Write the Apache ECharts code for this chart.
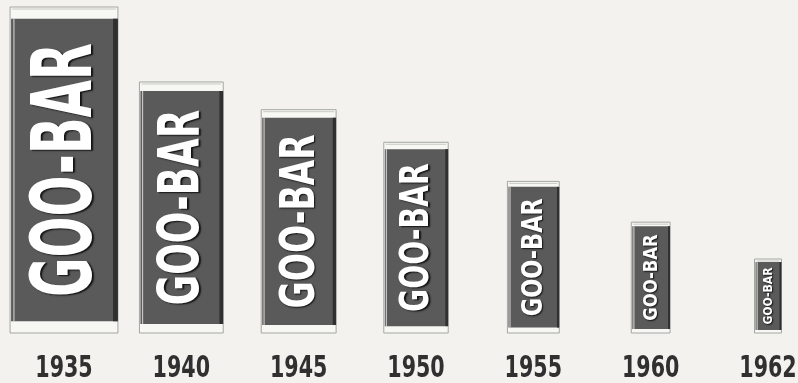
<!DOCTYPE html>
<html>
<head>
<meta charset="utf-8">
<script src="https://cdn.jsdelivr.net/npm/echarts@6/dist/echarts.min.js"></script>
<style>
  html, body { margin: 0; padding: 0; background: #f3f2ee; }
  #chart { width: 798px; height: 383px; }
</style>
</head>
<body>
<div id="chart"></div>
<script>
// Year of each wrapper shown
const years = ['1935', '1940', '1945', '1950', '1955', '1960', '1962'];
// Relative size of the candy bar (1935 = 100)
const barSize = [100, 77, 68.5, 58.5, 46.5, 34, 22.7];
// Brand printed on the wrapper
const brandName = 'GOO-BAR';

const condensedFont = '"Liberation Sans Narrow", "DejaVu Sans Condensed", sans-serif';

const measureCtx = document.createElement('canvas').getContext('2d');
function textWidth(str, size) {
  measureCtx.font = 'bold ' + size + 'px ' + condensedFont;
  return measureCtx.measureText(str).width;
}

// One wrapped candy bar, scaled in both directions with its value,
// plus the year printed underneath it
function renderBar(params, api) {
  const idx = api.value(0);
  const val = api.value(1);
  const top = api.coord([idx, val]);
  const base = api.coord([idx, 0]);
  const h = base[1] - top[1];
  const w = 0.321 * h + 3.2;
  const cx = top[0];
  const x0 = cx - w / 2;
  const tab = Math.max(3, h * 0.036);
  const bodyTop = top[1] + tab;
  const bodyH = h - 2 * tab;

  const capH = w * (0.24 + 0.003 * w);
  const fs = capH / 0.72;
  const natural = textWidth(brandName, fs);
  const sx = (bodyH * 0.84) / natural;

  return {
    type: 'group',
    children: [
      { type: 'rect', shape: { x: x0, y: top[1], width: w, height: h },
        style: { fill: '#f7f7f4', stroke: '#a5a5a2', lineWidth: 1 } },
      { type: 'rect', shape: { x: x0 + 1, y: bodyTop, width: w - 1.5, height: bodyH },
        style: { fill: '#5a5a5a' } },
      { type: 'rect', shape: { x: x0 + w - Math.max(2, w * 0.045), y: bodyTop, width: Math.max(2, w * 0.045), height: bodyH },
        style: { fill: '#303030' } },
      { type: 'rect', shape: { x: x0 + Math.max(2, w * 0.03), y: bodyTop, width: 1.2, height: bodyH },
        style: { fill: 'rgba(235,235,235,0.75)' } },
      { type: 'line', shape: { x1: x0 + 2, y1: top[1] + 2, x2: x0 + w - 2, y2: top[1] + 2 },
        style: { stroke: '#c9c9c6', lineWidth: 1 } },
      { type: 'text', x: cx + 0.077 * fs - 0.015 * w, y: bodyTop + bodyH / 2, rotation: Math.PI / 2,
        scaleX: sx, scaleY: 1,
        style: { text: brandName, fill: '#ffffff', font: 'bold ' + fs + 'px ' + condensedFont,
          align: 'center', verticalAlign: 'middle',
          textShadowColor: 'rgba(15,15,15,0.95)', textShadowBlur: 1.5,
          textShadowOffsetX: Math.max(1, w * 0.022), textShadowOffsetY: 1 } },
      { type: 'text', x: cx, y: 369, scaleX: 0.74, scaleY: 1,
        style: { text: years[idx], fill: '#303030', font: 'bold 31px ' + condensedFont,
          align: 'center', verticalAlign: 'middle' } }
    ]
  };
}

const chart = echarts.init(document.getElementById('chart'), null, { renderer: 'canvas' });
chart.setOption({
  backgroundColor: '#f3f2ee',
  animation: false,
  grid: { left: 64, right: 30, top: 7, bottom: 50 },
  xAxis: {
    type: 'category',
    data: years,
    boundaryGap: false,
    axisLine: { show: false },
    axisTick: { show: false },
    axisLabel: { show: false }
  },
  yAxis: { type: 'value', min: 0, max: 100, show: false },
  series: [{
    type: 'custom',
    renderItem: renderBar,
    encode: { x: 0, y: 1 },
    clip: false,
    data: barSize.map((v, i) => [i, v])
  }]
});
</script>
</body>
</html>
